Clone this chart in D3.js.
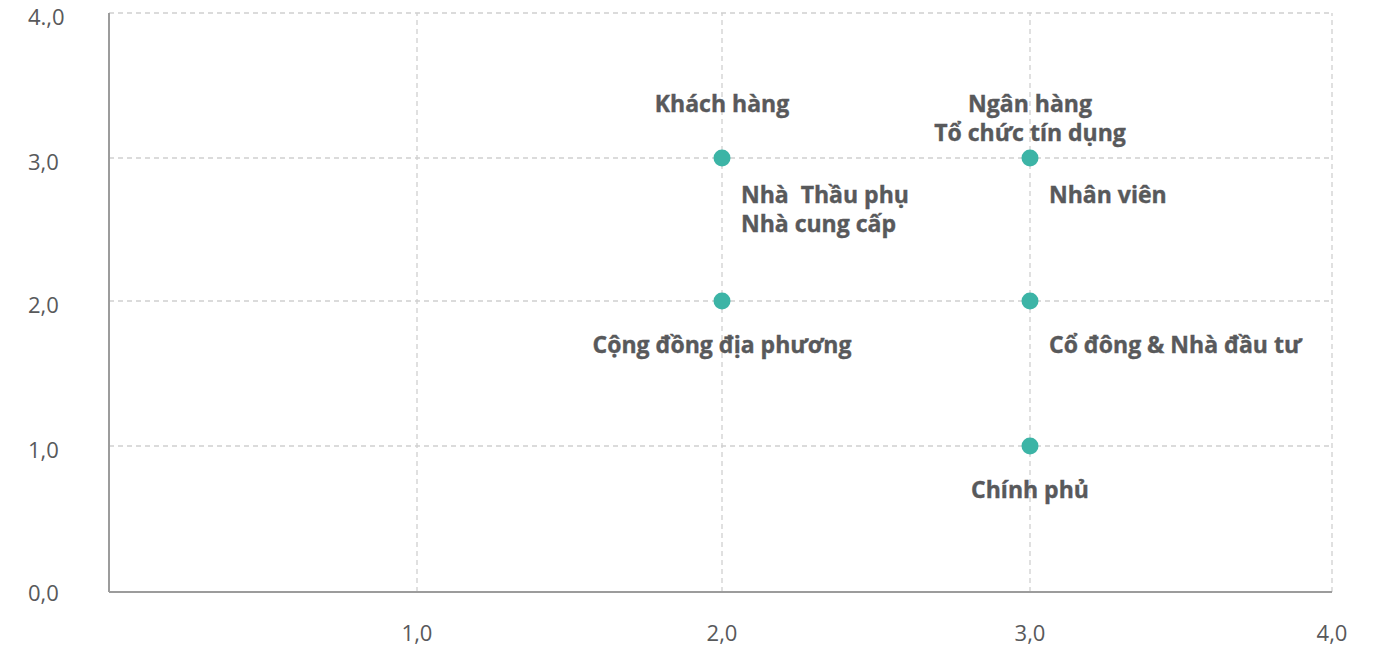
<!DOCTYPE html>
<html><head><meta charset="utf-8">
<script src="https://cdn.jsdelivr.net/npm/d3@7"></script>
<style>
html,body{margin:0;padding:0;background:#fff;}
svg{display:block;font-family:"Open Sans","Noto Sans",sans-serif;}
text{white-space:pre;}
</style></head>
<body><svg id="c" width="1378" height="649"></svg>
<script>
// Data
const pointX = [2, 3, 2, 3, 3];
const pointY = [3, 3, 2, 2, 1];
const labelTexts = [
  ["Khách hàng"],
  ["Ngân hàng", "Tổ chức tín dụng"],
  ["Nhà  Thầu phụ", "Nhà cung cấp"],
  ["Nhân viên"],
  ["Cộng đồng địa phương"],
  ["Cổ đông & Nhà đầu tư"],
  ["Chính phủ"]
];
const labelPoint = [0, 1, 0, 1, 2, 3, 4]; // index of point each label belongs to
const xTicks = [1, 2, 3, 4];
const yTicks = [0, 1, 2, 3, 4];
const yTickLabels = ["0,0", "1,0", "2,0", "3,0", "4.,0"];
const xTickLabels = ["1,0", "2,0", "3,0", "4,0"];

// Label placement (style)
const labelPlace = [
  {pos: "above", dy: -46},
  {pos: "above", dy: -46},
  {pos: "right", dy: 45},
  {pos: "right", dy: 45},
  {pos: "below", dy: 52},
  {pos: "right", dy: 52},
  {pos: "below", dy: 52}
];

const svg = d3.select("#c");
const x = d3.scaleLinear().domain([0, 1, 2, 3, 4]).range([109, 417, 722, 1030, 1332]);
const y = d3.scaleLinear().domain([0, 1, 2, 3, 4]).range([592, 446, 301, 158, 13]);

// grid
const g = svg.append("g");
g.selectAll("line.h").data(yTicks.filter(d => d > 0)).join("line")
  .attr("x1", x(0)).attr("x2", x(4))
  .attr("y1", d => y(d)).attr("y2", d => y(d))
  .attr("stroke", "#d0d0d0").attr("stroke-width", 1.3).attr("stroke-dasharray", "5,4");
g.selectAll("line.v").data(xTicks).join("line")
  .attr("x1", d => x(d)).attr("x2", d => x(d))
  .attr("y1", y(0)).attr("y2", y(4))
  .attr("stroke", "#d0d0d0").attr("stroke-width", 1.3).attr("stroke-dasharray", "5,4");

// axes lines
svg.append("line").attr("x1", x(0)).attr("x2", x(0)).attr("y1", y(4)).attr("y2", y(0))
  .attr("stroke", "#9c9c9c").attr("stroke-width", 2);
svg.append("line").attr("x1", x(0)).attr("x2", x(4)).attr("y1", y(0)).attr("y2", y(0))
  .attr("stroke", "#9c9c9c").attr("stroke-width", 2);

// tick labels
svg.selectAll("text.yt").data(yTicks).join("text")
  .attr("x", 28).attr("y", d => y(d) + (d === 0 ? 9 : 12))
  .attr("font-size", 22).attr("fill", "#58595b")
  .text((d, i) => yTickLabels[i]);
svg.selectAll("text.xt").data(xTicks).join("text")
  .attr("x", d => x(d)).attr("y", 641)
  .attr("text-anchor", "middle")
  .attr("font-size", 22).attr("fill", "#58595b")
  .text((d, i) => xTickLabels[i]);

// points
svg.selectAll("circle").data(pointX).join("circle")
  .attr("cx", (d, i) => x(pointX[i])).attr("cy", (d, i) => y(pointY[i]))
  .attr("r", 8.5).attr("fill", "#3cb4a6");

// labels
labelTexts.forEach((lines, i) => {
  const p = labelPoint[i];
  const px = x(pointX[p]), py = y(pointY[p]);
  const pl = labelPlace[i];
  const t = svg.append("text")
    .attr("font-size", 23).attr("font-weight", "bold").attr("fill", "#58595b")
    .attr("stroke", "#58595b").attr("stroke-width", 0.4)
    .attr("text-anchor", pl.pos === "right" ? "start" : "middle");
  const tx = pl.pos === "right" ? px + 19 : px;
  lines.forEach((s, j) => {
    t.append("tspan").attr("x", tx)
      .attr("y", py + pl.dy + j * 29)
      .text(s);
  });
});
</script></body></html>
